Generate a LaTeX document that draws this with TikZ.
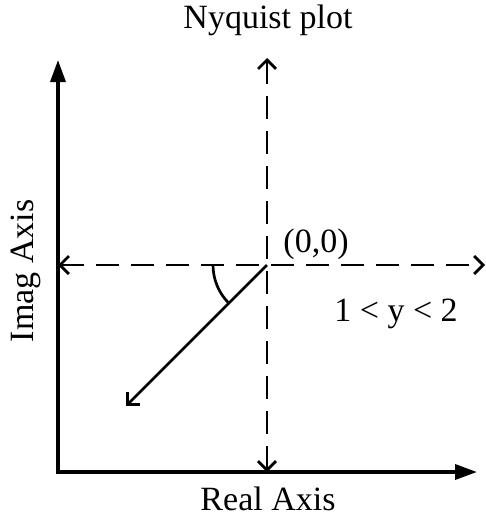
\documentclass[tikz,border=0pt]{standalone}
\usepackage{fontspec}
\setmainfont{Liberation Serif}
\usetikzlibrary{arrows.meta}
\begin{document}
\begin{tikzpicture}[x=1pt,y=-1pt,
  axisline/.style={line width=3.5pt,-{Triangle[length=22pt,width=15pt]}},
  dashline/.style={line width=2.7pt,dash pattern=on 23pt off 12pt,{Straight Barb[length=9pt,width=18pt]}-{Straight Barb[length=9pt,width=18pt]}},
  vecline/.style={line width=2.7pt,-{Straight Barb[length=9pt,width=18pt]}},
  lbl/.style={font=\fontsize{34}{36}\selectfont,inner sep=0pt,anchor=base}]
\useasboundingbox (0,0) rectangle (486,517);
\coordinate (org) at (58,472);
\coordinate (ytop) at (58,60);
\coordinate (xend) at (477,472);
\coordinate (o) at (267,265);
\coordinate (vtop) at (267,58);
\coordinate (vbot) at (267,472);
\coordinate (hleft) at (58,265);
\coordinate (hright) at (485,265);
\coordinate (vec) at (126,406);
\draw[axisline] ([yshift=1.75pt]org) -- (ytop);
\draw[axisline] ([xshift=-1.75pt]org) -- (xend);
\draw[dashline] (vbot) -- (vtop);
\draw[dashline] (hleft) -- (hright);
\draw[vecline] (o) -- (vec);
\draw[line width=2.7pt] ([xshift=-54pt]o) arc[start angle=180,end angle=225,radius=54pt];
\node[lbl] (title) at (268,28) {Nyquist plot};
\node[lbl] (xlab) at (268,510) {Real Axis};
\node[lbl,rotate=90] (ylab) at (33,271) {Imag Axis};
\node[lbl] (olab) at (316,252) {(0,0)};
\node[lbl] (rng) at (396,321) {1 < y < 2};
\end{tikzpicture}
\end{document}
